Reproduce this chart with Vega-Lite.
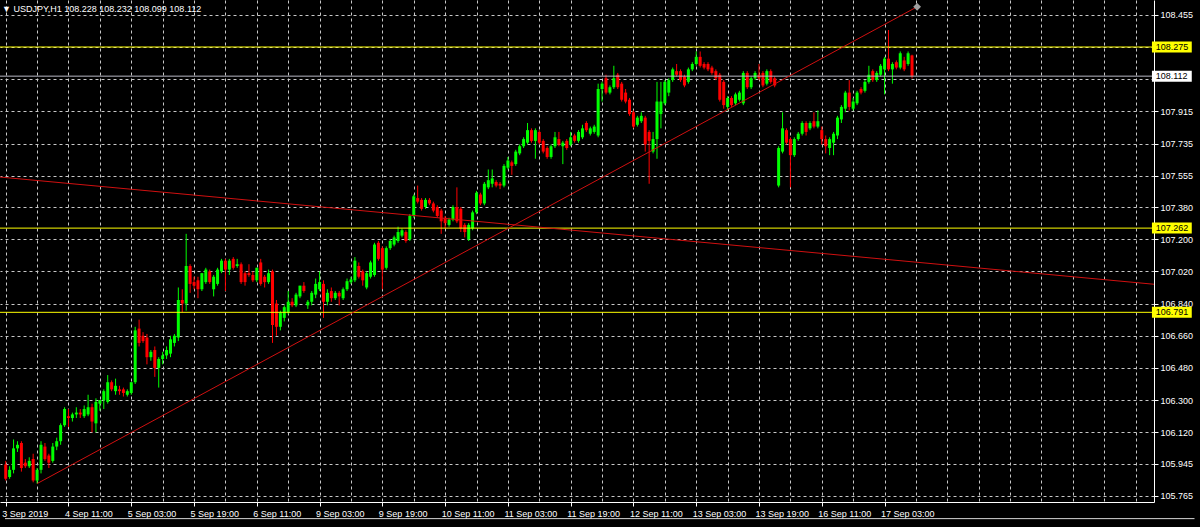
{
  "$schema": "https://vega.github.io/schema/vega-lite/v6.json",
  "width": 1154,
  "height": 502,
  "autosize": {"type": "none"},
  "padding": {"left": 0, "top": 0, "right": 46, "bottom": 25},
  "background": "#000000",
  "config": {"view": {"stroke": null}, "font": "Liberation Sans"},
  "title": {
    "text": "▼ USDJPY,H1  108.228 108.232 108.099 108.112",
    "anchor": "start", "frame": "group", "orient": "top", "offset": -21,
    "baseline": "alphabetic", "dx": 2, "color": "#ffffff",
    "font": "Liberation Sans", "fontSize": 9, "fontWeight": "normal"
  },
  "datasets": {
    "bars": [
      {"i":0,"o":105.94,"h":105.96,"l":105.85,"c":105.86},
      {"i":1,"o":105.87,"h":105.93,"l":105.86,"c":105.91},
      {"i":2,"o":105.91,"h":106.08,"l":105.89,"c":106.03},
      {"i":3,"o":106.03,"h":106.07,"l":106.01,"c":106.05},
      {"i":4,"o":106.06,"h":106.07,"l":105.90,"c":105.92},
      {"i":5,"o":105.95,"h":105.97,"l":105.92,"c":105.93},
      {"i":6,"o":105.93,"h":105.98,"l":105.92,"c":105.96},
      {"i":7,"o":105.97,"h":106.00,"l":105.84,"c":105.85},
      {"i":8,"o":105.85,"h":105.92,"l":105.833,"c":105.91},
      {"i":9,"o":105.91,"h":106.07,"l":105.89,"c":106.05},
      {"i":10,"o":106.04,"h":106.06,"l":105.96,"c":105.97},
      {"i":11,"o":105.99,"h":106.00,"l":105.92,"c":105.95},
      {"i":12,"o":105.96,"h":106.06,"l":105.95,"c":106.04},
      {"i":13,"o":106.04,"h":106.09,"l":106.02,"c":106.07},
      {"i":14,"o":106.07,"h":106.17,"l":106.05,"c":106.16},
      {"i":15,"o":106.16,"h":106.26,"l":106.15,"c":106.25},
      {"i":16,"o":106.21,"h":106.25,"l":106.15,"c":106.20},
      {"i":17,"o":106.20,"h":106.23,"l":106.18,"c":106.22},
      {"i":18,"o":106.22,"h":106.26,"l":106.20,"c":106.23},
      {"i":19,"o":106.23,"h":106.25,"l":106.20,"c":106.22},
      {"i":20,"o":106.21,"h":106.27,"l":106.20,"c":106.25},
      {"i":21,"o":106.22,"h":106.33,"l":106.21,"c":106.26},
      {"i":22,"o":106.26,"h":106.28,"l":106.12,"c":106.18},
      {"i":23,"o":106.17,"h":106.31,"l":106.12,"c":106.29},
      {"i":24,"o":106.28,"h":106.30,"l":106.24,"c":106.30},
      {"i":25,"o":106.30,"h":106.36,"l":106.25,"c":106.35},
      {"i":26,"o":106.29,"h":106.44,"l":106.28,"c":106.40},
      {"i":27,"o":106.40,"h":106.41,"l":106.35,"c":106.36},
      {"i":28,"o":106.35,"h":106.42,"l":106.33,"c":106.38},
      {"i":29,"o":106.36,"h":106.38,"l":106.33,"c":106.35},
      {"i":30,"o":106.36,"h":106.37,"l":106.32,"c":106.34},
      {"i":31,"o":106.33,"h":106.36,"l":106.32,"c":106.35},
      {"i":32,"o":106.34,"h":106.40,"l":106.33,"c":106.40},
      {"i":33,"o":106.40,"h":106.71,"l":106.39,"c":106.69},
      {"i":34,"o":106.70,"h":106.75,"l":106.60,"c":106.62},
      {"i":35,"o":106.66,"h":106.68,"l":106.62,"c":106.63},
      {"i":36,"o":106.65,"h":106.67,"l":106.50,"c":106.54},
      {"i":37,"o":106.54,"h":106.58,"l":106.52,"c":106.57},
      {"i":38,"o":106.58,"h":106.60,"l":106.43,"c":106.48},
      {"i":39,"o":106.48,"h":106.54,"l":106.37,"c":106.53},
      {"i":40,"o":106.53,"h":106.57,"l":106.50,"c":106.55},
      {"i":41,"o":106.55,"h":106.60,"l":106.53,"c":106.58},
      {"i":42,"o":106.56,"h":106.66,"l":106.54,"c":106.64},
      {"i":43,"o":106.62,"h":106.67,"l":106.60,"c":106.66},
      {"i":44,"o":106.65,"h":106.93,"l":106.63,"c":106.86},
      {"i":45,"o":106.86,"h":106.92,"l":106.79,"c":106.84},
      {"i":46,"o":106.84,"h":107.23,"l":106.80,"c":107.05},
      {"i":47,"o":107.05,"h":107.06,"l":106.90,"c":106.95},
      {"i":48,"o":106.96,"h":106.99,"l":106.92,"c":106.94},
      {"i":49,"o":106.97,"h":106.99,"l":106.87,"c":106.92},
      {"i":50,"o":106.92,"h":107.01,"l":106.91,"c":107.01},
      {"i":51,"o":106.96,"h":107.04,"l":106.95,"c":107.03},
      {"i":52,"o":107.02,"h":107.03,"l":106.95,"c":106.96},
      {"i":53,"o":106.92,"h":107.00,"l":106.88,"c":106.99},
      {"i":54,"o":106.95,"h":107.04,"l":106.94,"c":107.03},
      {"i":55,"o":107.02,"h":107.09,"l":107.01,"c":107.08},
      {"i":56,"o":107.08,"h":107.09,"l":106.91,"c":107.03},
      {"i":57,"o":107.03,"h":107.09,"l":107.00,"c":107.08},
      {"i":58,"o":107.09,"h":107.10,"l":107.03,"c":107.04},
      {"i":59,"o":107.05,"h":107.09,"l":107.04,"c":107.06},
      {"i":60,"o":107.06,"h":107.07,"l":106.95,"c":106.96},
      {"i":61,"o":107.01,"h":107.02,"l":106.94,"c":106.96},
      {"i":62,"o":107.01,"h":107.06,"l":106.99,"c":107.00},
      {"i":63,"o":107.00,"h":107.02,"l":106.96,"c":106.97},
      {"i":64,"o":106.97,"h":107.04,"l":106.96,"c":107.04},
      {"i":65,"o":107.07,"h":107.09,"l":106.94,"c":106.95},
      {"i":66,"o":106.99,"h":107.00,"l":106.93,"c":106.96},
      {"i":67,"o":106.96,"h":107.03,"l":106.95,"c":107.01},
      {"i":68,"o":107.02,"h":107.03,"l":106.62,"c":106.72},
      {"i":69,"o":106.84,"h":106.86,"l":106.66,"c":106.71},
      {"i":70,"o":106.71,"h":106.80,"l":106.69,"c":106.79},
      {"i":71,"o":106.76,"h":106.83,"l":106.74,"c":106.82},
      {"i":72,"o":106.79,"h":106.91,"l":106.78,"c":106.85},
      {"i":73,"o":106.85,"h":106.87,"l":106.82,"c":106.83},
      {"i":74,"o":106.83,"h":106.90,"l":106.82,"c":106.89},
      {"i":75,"o":106.88,"h":106.94,"l":106.87,"c":106.94},
      {"i":76,"o":106.94,"h":106.96,"l":106.90,"c":106.91},
      {"i":77,"o":106.83,"h":106.86,"l":106.81,"c":106.85},
      {"i":78,"o":106.85,"h":106.91,"l":106.83,"c":106.90},
      {"i":79,"o":106.89,"h":106.98,"l":106.87,"c":106.95},
      {"i":80,"o":106.92,"h":107.02,"l":106.91,"c":106.96},
      {"i":81,"o":106.95,"h":106.97,"l":106.76,"c":106.85},
      {"i":82,"o":106.85,"h":106.92,"l":106.83,"c":106.90},
      {"i":83,"o":106.91,"h":106.93,"l":106.85,"c":106.87},
      {"i":84,"o":106.87,"h":106.91,"l":106.86,"c":106.90},
      {"i":85,"o":106.90,"h":106.91,"l":106.83,"c":106.88},
      {"i":86,"o":106.87,"h":106.93,"l":106.86,"c":106.92},
      {"i":87,"o":106.92,"h":106.98,"l":106.91,"c":106.965},
      {"i":88,"o":106.96,"h":106.99,"l":106.95,"c":106.975},
      {"i":89,"o":106.97,"h":107.10,"l":106.96,"c":107.08},
      {"i":90,"o":107.05,"h":107.07,"l":106.98,"c":106.99},
      {"i":91,"o":107.02,"h":107.03,"l":106.94,"c":106.97},
      {"i":92,"o":106.93,"h":107.02,"l":106.92,"c":107.01},
      {"i":93,"o":106.99,"h":107.08,"l":106.98,"c":107.07},
      {"i":94,"o":107.00,"h":107.18,"l":106.99,"c":107.17},
      {"i":95,"o":107.18,"h":107.19,"l":107.08,"c":107.09},
      {"i":96,"o":107.15,"h":107.16,"l":106.92,"c":107.03},
      {"i":97,"o":107.04,"h":107.16,"l":107.03,"c":107.15},
      {"i":98,"o":107.15,"h":107.20,"l":107.14,"c":107.19},
      {"i":99,"o":107.17,"h":107.22,"l":107.16,"c":107.21},
      {"i":100,"o":107.19,"h":107.27,"l":107.18,"c":107.24},
      {"i":101,"o":107.22,"h":107.26,"l":107.21,"c":107.25},
      {"i":102,"o":107.24,"h":107.25,"l":107.18,"c":107.19},
      {"i":103,"o":107.20,"h":107.34,"l":107.19,"c":107.33},
      {"i":104,"o":107.33,"h":107.45,"l":107.32,"c":107.44},
      {"i":105,"o":107.43,"h":107.50,"l":107.40,"c":107.41},
      {"i":106,"o":107.42,"h":107.43,"l":107.36,"c":107.37},
      {"i":107,"o":107.38,"h":107.43,"l":107.37,"c":107.42},
      {"i":108,"o":107.42,"h":107.43,"l":107.39,"c":107.40},
      {"i":109,"o":107.40,"h":107.41,"l":107.35,"c":107.36},
      {"i":110,"o":107.38,"h":107.39,"l":107.32,"c":107.33},
      {"i":111,"o":107.36,"h":107.37,"l":107.23,"c":107.30},
      {"i":112,"o":107.32,"h":107.33,"l":107.26,"c":107.29},
      {"i":113,"o":107.28,"h":107.32,"l":107.27,"c":107.31},
      {"i":114,"o":107.31,"h":107.39,"l":107.30,"c":107.38},
      {"i":115,"o":107.38,"h":107.49,"l":107.29,"c":107.30},
      {"i":116,"o":107.37,"h":107.38,"l":107.24,"c":107.26},
      {"i":117,"o":107.28,"h":107.29,"l":107.21,"c":107.24},
      {"i":118,"o":107.20,"h":107.29,"l":107.19,"c":107.28},
      {"i":119,"o":107.26,"h":107.36,"l":107.25,"c":107.35},
      {"i":120,"o":107.35,"h":107.47,"l":107.34,"c":107.46},
      {"i":121,"o":107.45,"h":107.46,"l":107.39,"c":107.40},
      {"i":122,"o":107.40,"h":107.52,"l":107.39,"c":107.51},
      {"i":123,"o":107.49,"h":107.59,"l":107.48,"c":107.53},
      {"i":124,"o":107.51,"h":107.59,"l":107.49,"c":107.54},
      {"i":125,"o":107.52,"h":107.53,"l":107.49,"c":107.50},
      {"i":126,"o":107.51,"h":107.52,"l":107.48,"c":107.50},
      {"i":127,"o":107.50,"h":107.62,"l":107.49,"c":107.61},
      {"i":128,"o":107.60,"h":107.66,"l":107.59,"c":107.64},
      {"i":129,"o":107.63,"h":107.64,"l":107.56,"c":107.61},
      {"i":130,"o":107.62,"h":107.70,"l":107.61,"c":107.69},
      {"i":131,"o":107.68,"h":107.73,"l":107.67,"c":107.72},
      {"i":132,"o":107.72,"h":107.77,"l":107.71,"c":107.76},
      {"i":133,"o":107.74,"h":107.85,"l":107.73,"c":107.81},
      {"i":134,"o":107.81,"h":107.82,"l":107.74,"c":107.75},
      {"i":135,"o":107.75,"h":107.82,"l":107.65,"c":107.81},
      {"i":136,"o":107.80,"h":107.81,"l":107.73,"c":107.74},
      {"i":137,"o":107.75,"h":107.76,"l":107.68,"c":107.69},
      {"i":138,"o":107.71,"h":107.72,"l":107.65,"c":107.66},
      {"i":139,"o":107.66,"h":107.73,"l":107.65,"c":107.72},
      {"i":140,"o":107.72,"h":107.80,"l":107.71,"c":107.77},
      {"i":141,"o":107.76,"h":107.80,"l":107.72,"c":107.73},
      {"i":142,"o":107.72,"h":107.75,"l":107.62,"c":107.74},
      {"i":143,"o":107.75,"h":107.76,"l":107.70,"c":107.71},
      {"i":144,"o":107.73,"h":107.80,"l":107.72,"c":107.77},
      {"i":145,"o":107.78,"h":107.79,"l":107.74,"c":107.75},
      {"i":146,"o":107.75,"h":107.81,"l":107.74,"c":107.80},
      {"i":147,"o":107.77,"h":107.84,"l":107.76,"c":107.82},
      {"i":148,"o":107.85,"h":107.86,"l":107.80,"c":107.81},
      {"i":149,"o":107.79,"h":107.83,"l":107.78,"c":107.82},
      {"i":150,"o":107.80,"h":107.84,"l":107.79,"c":107.83},
      {"i":151,"o":107.78,"h":108.07,"l":107.77,"c":108.04},
      {"i":152,"o":108.04,"h":108.08,"l":107.97,"c":108.07},
      {"i":153,"o":108.10,"h":108.12,"l":108.01,"c":108.02},
      {"i":154,"o":108.02,"h":108.06,"l":108.01,"c":108.05},
      {"i":155,"o":108.05,"h":108.17,"l":108.04,"c":108.10},
      {"i":156,"o":108.12,"h":108.13,"l":108.04,"c":108.05},
      {"i":157,"o":108.07,"h":108.08,"l":107.97,"c":107.98},
      {"i":158,"o":108.02,"h":108.04,"l":107.96,"c":107.97},
      {"i":159,"o":107.98,"h":107.99,"l":107.89,"c":107.90},
      {"i":160,"o":107.91,"h":107.92,"l":107.82,"c":107.83},
      {"i":161,"o":107.84,"h":107.89,"l":107.83,"c":107.88},
      {"i":162,"o":107.86,"h":107.91,"l":107.85,"c":107.89},
      {"i":163,"o":107.88,"h":107.89,"l":107.69,"c":107.73},
      {"i":164,"o":107.80,"h":107.81,"l":107.51,"c":107.75},
      {"i":165,"o":107.69,"h":107.80,"l":107.68,"c":107.76},
      {"i":166,"o":107.76,"h":108.08,"l":107.65,"c":107.97},
      {"i":167,"o":107.90,"h":108.08,"l":107.82,"c":107.97},
      {"i":168,"o":107.96,"h":108.09,"l":107.95,"c":108.08},
      {"i":169,"o":108.02,"h":108.10,"l":108.00,"c":108.09},
      {"i":170,"o":108.09,"h":108.16,"l":108.08,"c":108.15},
      {"i":171,"o":108.14,"h":108.18,"l":108.11,"c":108.12},
      {"i":172,"o":108.14,"h":108.15,"l":108.08,"c":108.09},
      {"i":173,"o":108.11,"h":108.12,"l":108.05,"c":108.06},
      {"i":174,"o":108.08,"h":108.16,"l":108.07,"c":108.15},
      {"i":175,"o":108.15,"h":108.19,"l":108.14,"c":108.18},
      {"i":176,"o":108.18,"h":108.25,"l":108.17,"c":108.22},
      {"i":177,"o":108.22,"h":108.25,"l":108.16,"c":108.17},
      {"i":178,"o":108.18,"h":108.19,"l":108.15,"c":108.16},
      {"i":179,"o":108.18,"h":108.19,"l":108.14,"c":108.15},
      {"i":180,"o":108.16,"h":108.17,"l":108.12,"c":108.13},
      {"i":181,"o":108.14,"h":108.15,"l":108.09,"c":108.10},
      {"i":182,"o":108.12,"h":108.13,"l":107.97,"c":107.98},
      {"i":183,"o":108.08,"h":108.09,"l":107.93,"c":107.95},
      {"i":184,"o":107.94,"h":108.00,"l":107.92,"c":107.99},
      {"i":185,"o":107.99,"h":108.00,"l":107.94,"c":107.95},
      {"i":186,"o":107.96,"h":108.02,"l":107.95,"c":108.01},
      {"i":187,"o":107.98,"h":108.03,"l":107.97,"c":108.02},
      {"i":188,"o":107.96,"h":108.14,"l":107.95,"c":108.13},
      {"i":189,"o":108.13,"h":108.14,"l":108.04,"c":108.05},
      {"i":190,"o":108.05,"h":108.11,"l":108.04,"c":108.10},
      {"i":191,"o":108.10,"h":108.14,"l":108.09,"c":108.13},
      {"i":192,"o":108.12,"h":108.18,"l":108.09,"c":108.10},
      {"i":193,"o":108.13,"h":108.14,"l":108.05,"c":108.06},
      {"i":194,"o":108.07,"h":108.15,"l":108.06,"c":108.14},
      {"i":195,"o":108.14,"h":108.15,"l":108.07,"c":108.08},
      {"i":196,"o":108.10,"h":108.11,"l":108.05,"c":108.06},
      {"i":197,"o":107.50,"h":107.72,"l":107.49,"c":107.71},
      {"i":198,"o":107.69,"h":107.91,"l":107.68,"c":107.82},
      {"i":199,"o":107.81,"h":107.82,"l":107.73,"c":107.74},
      {"i":200,"o":107.76,"h":107.77,"l":107.49,"c":107.67},
      {"i":201,"o":107.67,"h":107.77,"l":107.66,"c":107.76},
      {"i":202,"o":107.76,"h":107.80,"l":107.75,"c":107.79},
      {"i":203,"o":107.79,"h":107.86,"l":107.78,"c":107.85},
      {"i":204,"o":107.85,"h":107.86,"l":107.78,"c":107.80},
      {"i":205,"o":107.82,"h":107.86,"l":107.81,"c":107.85},
      {"i":206,"o":107.86,"h":107.91,"l":107.82,"c":107.83},
      {"i":207,"o":107.83,"h":107.92,"l":107.82,"c":107.86},
      {"i":208,"o":107.81,"h":107.83,"l":107.73,"c":107.76},
      {"i":209,"o":107.76,"h":107.78,"l":107.68,"c":107.72},
      {"i":210,"o":107.71,"h":107.77,"l":107.67,"c":107.76},
      {"i":211,"o":107.74,"h":107.80,"l":107.67,"c":107.79},
      {"i":212,"o":107.78,"h":107.89,"l":107.76,"c":107.88},
      {"i":213,"o":107.87,"h":107.95,"l":107.85,"c":107.94},
      {"i":214,"o":107.93,"h":108.03,"l":107.91,"c":108.02},
      {"i":215,"o":108.02,"h":108.09,"l":107.92,"c":107.94},
      {"i":216,"o":107.93,"h":107.99,"l":107.92,"c":107.97},
      {"i":217,"o":107.96,"h":108.03,"l":107.95,"c":108.02},
      {"i":218,"o":108.04,"h":108.05,"l":108.01,"c":108.02},
      {"i":219,"o":108.03,"h":108.09,"l":108.02,"c":108.08},
      {"i":220,"o":108.08,"h":108.17,"l":108.07,"c":108.12},
      {"i":221,"o":108.14,"h":108.15,"l":108.08,"c":108.09},
      {"i":222,"o":108.09,"h":108.14,"l":108.08,"c":108.13},
      {"i":223,"o":108.12,"h":108.18,"l":108.11,"c":108.17},
      {"i":224,"o":108.15,"h":108.22,"l":108.01,"c":108.21},
      {"i":225,"o":108.21,"h":108.37,"l":108.14,"c":108.15},
      {"i":226,"o":108.15,"h":108.19,"l":108.07,"c":108.18},
      {"i":227,"o":108.19,"h":108.20,"l":108.15,"c":108.16},
      {"i":228,"o":108.16,"h":108.25,"l":108.15,"c":108.24},
      {"i":229,"o":108.20,"h":108.22,"l":108.14,"c":108.15},
      {"i":230,"o":108.18,"h":108.25,"l":108.17,"c":108.24},
      {"i":231,"o":108.228,"h":108.232,"l":108.099,"c":108.112}
    ],
    "levels": [
      {"p": 108.275, "kind": "level"},
      {"p": 108.112, "kind": "bid"},
      {"p": 107.262, "kind": "level"},
      {"p": 106.791, "kind": "level"}
    ],
    "trend": [
      {"line": "up", "i": 8, "p": 105.833},
      {"line": "up", "i": 232.3, "p": 108.5},
      {"line": "down", "i": -10, "p": 107.565},
      {"line": "down", "i": 300, "p": 106.933}
    ],
    "anchor": [{"i": 232.3, "p": 108.5}],
    "frame": [{"p": 105.637}]
  },
  "layer": [
    {
      "data": {"name": "bars"},
      "mark": {"type": "rule", "strokeWidth": 1},
      "encoding": {
        "x": {
          "field": "i", "type": "quantitative", "title": null,
          "scale": {"domain": [-0.18, 291.4], "nice": false, "zero": false},
          "axis": {
            "orient": "bottom",
            "values": [0,8,16,24,32,40,48,56,64,72,80,88,96,104,112,120,128,136,144,152,160,168,176,184,192,200,208,216,224,232,240,248,256,264,272,280,288],
            "tickCount": 200,
            "grid": true, "gridColor": "#c8c8c8", "gridDash": [3, 3], "gridWidth": 1,
            "domainColor": "#ffffff", "domainWidth": 1,
            "tickColor": "#ffffff", "tickSize": 4,
            "tickOpacity": {"condition": {"test": "datum.value % 16 === 0 && datum.value <= 224", "value": 1}, "value": 0},
            "labelExpr": "datum.value % 16 === 0 && datum.value <= 224 ? ['3 Sep 2019','4 Sep 11:00','5 Sep 03:00','5 Sep 19:00','6 Sep 11:00','9 Sep 03:00','9 Sep 19:00','10 Sep 11:00','11 Sep 03:00','11 Sep 19:00','12 Sep 11:00','13 Sep 03:00','13 Sep 19:00','16 Sep 11:00','17 Sep 03:00'][datum.value / 16] : ''",
            "labelAlign": "left", "labelBaseline": "top", "labelPadding": 3, "labelOffset": -4,
            "labelColor": "#ffffff", "labelFont": "Liberation Sans", "labelFontSize": 9,
            "labelFlush": false, "labelOverlap": false, "labelBound": false
          }
        },
        "y": {
          "field": "l", "type": "quantitative", "title": null,
          "scale": {"domain": [105.758, 108.51], "nice": false, "zero": false},
          "axis": {
            "orient": "right",
            "values": [105.765, 105.945, 106.12, 106.3, 106.48, 106.66, 106.84, 107.02, 107.2, 107.38, 107.555, 107.735, 107.915, 108.095, 108.275, 108.455],
            "tickCount": 200,
            "labelExpr": "datum.value === 108.275 || datum.value === 108.095 ? '' : format(datum.value, '.3f')",
            "grid": true, "gridColor": "#c8c8c8", "gridDash": [3, 3], "gridWidth": 1,
            "domainColor": "#ffffff", "domainWidth": 1,
            "tickColor": "#ffffff", "tickSize": 4, "labelPadding": 2,
            "labelAlign": "left", "labelBaseline": "middle",
            "labelColor": "#ffffff", "labelFont": "Liberation Sans", "labelFontSize": 9,
            "labelFlush": false, "labelOverlap": false, "labelBound": false
          }
        },
        "y2": {"field": "h"},
        "color": {"condition": {"test": "datum.c > datum.o", "value": "#00ff00"}, "value": "#ff0000"}
      }
    },
    {
      "data": {"name": "bars"},
      "mark": {"type": "bar", "width": 3},
      "encoding": {
        "x": {"field": "i", "type": "quantitative", "title": null},
        "y": {"field": "o", "type": "quantitative", "title": null},
        "y2": {"field": "c"},
        "color": {"condition": {"test": "datum.c > datum.o", "value": "#00ff00"}, "value": "#ff0000"}
      }
    },
    {
      "data": {"name": "levels"},
      "mark": {"type": "rule", "strokeWidth": 1},
      "encoding": {
        "y": {"field": "p", "type": "quantitative", "title": null},
        "color": {"condition": {"test": "datum.kind === 'bid'", "value": "#b8b8c4"}, "value": "#ffff00"}
      }
    },
    {
      "data": {"name": "trend"},
      "mark": {"type": "line", "strokeWidth": 1, "color": "#d01010", "clip": true},
      "encoding": {
        "x": {"field": "i", "type": "quantitative", "title": null},
        "y": {"field": "p", "type": "quantitative", "title": null},
        "detail": {"field": "line"}
      }
    },
    {
      "data": {"name": "anchor"},
      "mark": {"type": "point", "shape": "diamond", "filled": true, "size": 60, "color": "#a0a0a0", "opacity": 1},
      "encoding": {
        "x": {"field": "i", "type": "quantitative", "title": null},
        "y": {"field": "p", "type": "quantitative", "title": null}
      }
    },
    {
      "data": {"name": "frame"},
      "mark": {"type": "rule", "strokeWidth": 1, "color": "#d8d8d8"},
      "encoding": {
        "x": {"datum": -0.18, "type": "quantitative"},
        "x2": {"datum": 303},
        "y": {"field": "p", "type": "quantitative", "title": null}
      }
    },
    {
      "data": {"name": "levels"},
      "mark": {"type": "bar", "height": 11},
      "encoding": {
        "x": {"datum": 292.15, "type": "quantitative"},
        "x2": {"datum": 302.3},
        "y": {"field": "p", "type": "quantitative", "title": null},
        "color": {"condition": {"test": "datum.kind === 'bid'", "value": "#ffffff"}, "value": "#ffff00"}
      }
    },
    {
      "data": {"name": "levels"},
      "mark": {"type": "text", "align": "left", "baseline": "middle", "color": "#000000", "font": "Liberation Sans", "fontSize": 9},
      "encoding": {
        "x": {"datum": 293.1, "type": "quantitative"},
        "y": {"field": "p", "type": "quantitative", "title": null},
        "text": {"field": "p", "type": "quantitative", "format": ".3f"}
      }
    }
  ]
}
